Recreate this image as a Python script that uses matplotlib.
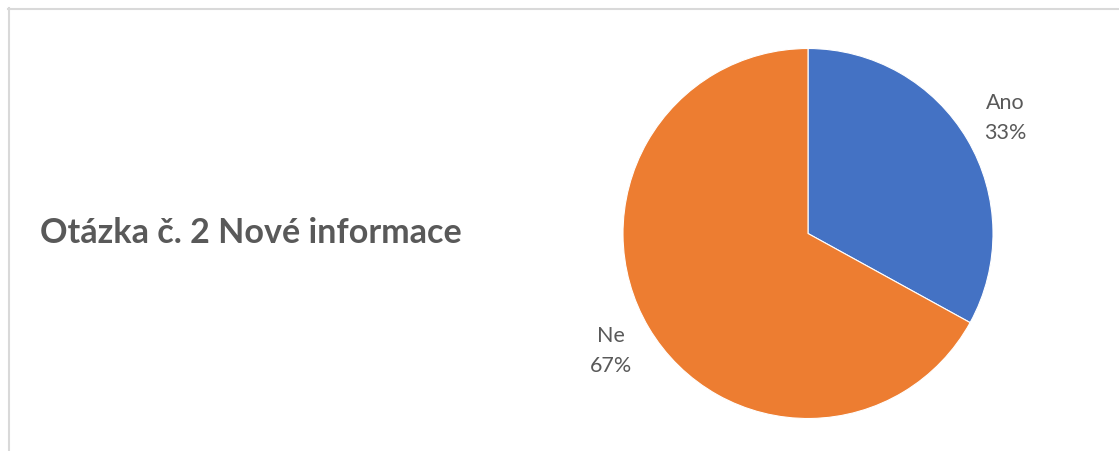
import matplotlib
matplotlib.use("Agg")
import matplotlib.pyplot as plt
from matplotlib.lines import Line2D

# data
categories = ["Ano", "Ne"]
values = [33, 67]
colors = ["#4472C4", "#ED7D31"]
title = "Otázka č. 2 Nové informace"

TEXT = "#595959"
W, H = 1119, 452

plt.rcParams["font.family"] = ["Lato", "DejaVu Sans"]

fig = plt.figure(figsize=(W / 100, H / 100), dpi=100)
fig.patch.set_facecolor("white")

# chart frame (cropped on right and bottom)
fig.add_artist(Line2D([8.5 / W, 8.5 / W], [0, 1 - 9 / H], transform=fig.transFigure,
                      color="#D9D9D9", lw=1.5))
fig.add_artist(Line2D([8 / W, 1], [1 - 9.5 / H, 1 - 9.5 / H], transform=fig.transFigure,
                      color="#D9D9D9", lw=1.5))

# pie axes: centre (808, 234.5) px, radius 185 px
cx, cy, r = 808, 234.5, 185
ax = fig.add_axes([(cx - r) / W, (H - cy - r) / H, 2 * r / W, 2 * r / H])
total = sum(values)
labels = [f"{c}\n{v / total * 100:.0f}%" for c, v in zip(categories, values)]
wedges, texts = ax.pie(values, labels=labels, colors=colors, startangle=90, counterclock=False,
                       labeldistance=1.24, radius=1,
                       wedgeprops=dict(edgecolor="white", linewidth=0.8),
                       textprops=dict(color=TEXT, fontsize=15.5, linespacing=1.65))
for t in texts:
    t.set_horizontalalignment("center")
ax.set_xlim(-1, 1)
ax.set_ylim(-1, 1)
ax.set_aspect("equal")
ax.axis("off")

fig.text(40 / W, (H - 243) / H, title, fontsize=24.6, fontweight="bold", color=TEXT,
         ha="left", va="baseline")

fig.savefig("out.png", dpi=100, facecolor="white")
